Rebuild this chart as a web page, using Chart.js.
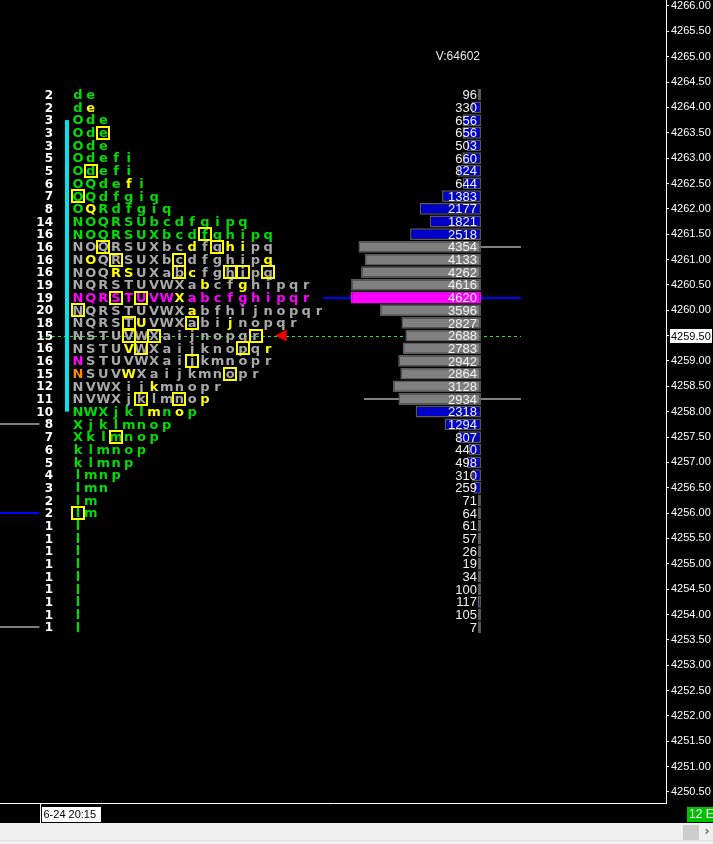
<!DOCTYPE html>
<html><head><meta charset="utf-8">
<script src="https://cdn.jsdelivr.net/npm/chart.js@4"></script>
<style>html,body{margin:0;padding:0;background:#000;overflow:hidden}canvas{display:block}</style>
</head><body>
<canvas id="c" width="713" height="844"></canvas>
<script>
// ---------------- data ----------------
const prices = [4264.25,4264.00,4263.75,4263.50,4263.25,4263.00,4262.75,4262.50,4262.25,4262.00,
  4261.75,4261.50,4261.25,4261.00,4260.75,4260.50,4260.25,4260.00,4259.75,4259.50,
  4259.25,4259.00,4258.75,4258.50,4258.25,4258.00,4257.75,4257.50,4257.25,4257.00,
  4256.75,4256.50,4256.25,4256.00,4255.75,4255.50,4255.25,4255.00,4254.75,4254.50,
  4254.25,4254.00,4253.75];
const volumes = [96,330,656,656,503,660,824,644,1383,2177,1821,2518,4354,4133,4262,4616,4620,3596,2827,2688,
  2783,2942,2864,3128,2934,2318,1294,807,440,498,310,259,71,64,61,57,26,19,34,100,117,105,7];
const tpoCounts = [2,2,3,3,3,5,5,6,7,8,14,16,16,16,16,19,19,20,18,15,16,16,15,12,11,10,8,7,6,5,4,3,2,2,1,1,1,1,1,1,1,1,1];
const tpoRows = ["de","de","Ode","Ode","Ode","Odefi","Odefi","OQdefi","OQdfgiq","OQRdfgiq",
  "NOQRSUbcdfgipq","NOQRSUXbcdfghipq","NOQRSUXbcdfghipq","NOQRSUXbcdfghipq","NOQRSUXabcfghipq",
  "NQRSTUVWXabcfghipqr","NQRSTUVWXabcfghipqr","NQRSTUVWXabfhijnopqr","NQRSTUVWXabijnopqr",
  "NSTUVWXaijnopqr","NSTUVWXaijknopqr","NSTUVWXaijkmnopr","NSUVWXaijkmnopr","NVWXijkmnopr",
  "NVWXjklmnop","NWXjklmnop","Xjklmnop","Xklmnop","klmnop","klmnp","lmnp","lmn","lm","lm",
  "l","l","l","l","l","l","l","l","l"];
const yellowCells = [[1,1],[7,4],[9,1],[12,9],[12,12],[12,13],[13,1],[13,15],[14,3],[14,4],[14,9],
  [15,10],[15,13],[16,8],[17,9],[18,5],[18,12],[20,4],[20,15],[22,4],[23,6],[24,10],[25,6],[25,8]];
const magentaCells = [[21,0]];
const orangeCells = [[22,0]];
const boxCells = [[3,2],[6,1],[8,0],[11,10],[12,2],[12,11],[13,3],[13,8],[14,8],[14,12],[14,13],[14,15],
  [16,3],[16,5],[17,0],[18,4],[18,9],[19,4],[19,6],[19,14],[20,5],[20,13],[21,9],[22,12],[24,5],[24,8],[27,3],[33,0]];
const yTickValues = [4266.00,4265.50,4265.00,4264.50,4264.00,4263.50,4263.00,4262.50,4262.00,4261.50,
  4261.00,4260.50,4260.00,4259.50,4259.00,4258.50,4258.00,4257.50,4257.00,4256.50,4256.00,4255.50,
  4255.00,4254.50,4254.00,4253.50,4253.00,4252.50,4252.00,4251.50,4251.00,4250.50];
const vaHigh = 4261.25, vaLow = 4258.25, pocPrice = 4260.25, lastPrice = 4259.50;
const ibHigh = 4263.75, ibLow = 4258.00;
const prevLevels = [4257.75, 4256.00, 4253.75];
const prevLevelKinds = ['va', 'poc', 'va'];
const dateLabel = '6-24 20:15';
const cornerLabel = '12 E';

// ---------------- style ----------------
const COL = { green:'#00dd00', grey:'#a8a8a8', yellow:'#ffff00', magenta:'#ff00ff', orange:'#ff8a00',
  white:'#ffffff', cyan:'#00e5ee', blueBar:'#0000c8', greyBar:'#7f7f7f', barEdge:'#5a5a5a',
  pocLine:'#0000ff', vaLine:'#808080', dash:'#22ee22', red:'#ee0000' };
const inVA = p => p <= vaHigh && p >= vaLow;
const has = (list, r, c) => list.some(a => a[0] === r && a[1] === c);
const totalVol = volumes.reduce((a, b) => a + b, 0);

const profilePlugin = {
  id: 'profile',
  beforeDraw(chart) {
    const ctx = chart.ctx;
    ctx.save(); ctx.fillStyle = '#000'; ctx.fillRect(0, 0, chart.width, chart.height); ctx.restore();
  },
  beforeDatasetsDraw(chart) {
    const ctx = chart.ctx, ys = chart.scales.y, xt = chart.scales.xt, xv = chart.scales.xv;
    const lineEnd = xv.getPixelForValue(-1420);
    ctx.save();
    ctx.lineWidth = 2; ctx.strokeStyle = COL.vaLine;
    [vaHigh, vaLow].forEach(p => {
      const y = Math.round(ys.getPixelForValue(p));
      ctx.beginPath(); ctx.moveTo(xv.getPixelForValue(4160), y); ctx.lineTo(lineEnd, y); ctx.stroke();
    });
    ctx.strokeStyle = COL.pocLine;
    let y = Math.round(ys.getPixelForValue(pocPrice));
    ctx.beginPath(); ctx.moveTo(xv.getPixelForValue(5620), y); ctx.lineTo(lineEnd, y); ctx.stroke();
    prevLevels.forEach((p, i) => {
      const yy = Math.round(ys.getPixelForValue(p));
      ctx.strokeStyle = prevLevelKinds[i] === 'poc' ? COL.pocLine : COL.vaLine;
      ctx.beginPath(); ctx.moveTo(chart.chartArea.left, yy); ctx.lineTo(xt.getPixelForValue(-3.05), yy); ctx.stroke();
    });
    ctx.lineWidth = 1; ctx.strokeStyle = COL.dash; ctx.setLineDash([3, 3]);
    y = Math.round(ys.getPixelForValue(lastPrice)) + 0.5;
    ctx.beginPath(); ctx.moveTo(xt.getPixelForValue(-3), y); ctx.lineTo(lineEnd, y); ctx.stroke();
    ctx.setLineDash([]);
    const half = Math.abs(ys.getPixelForValue(0) - ys.getPixelForValue(0.125));
    const yTop = ys.getPixelForValue(ibHigh) - half, yBot = ys.getPixelForValue(ibLow) + half;
    const xc = xt.getPixelForValue(-0.87);
    ctx.fillStyle = COL.cyan; ctx.fillRect(xc - 2, yTop, 4, yBot - yTop);
    ctx.restore();
  },
  afterDatasetsDraw(chart) {
    const ctx = chart.ctx, ys = chart.scales.y, xt = chart.scales.xt, xv = chart.scales.xv;
    ctx.save();
    ctx.font = '13px "Liberation Sans"'; ctx.fillStyle = '#f2f2f2';
    ctx.textAlign = 'right'; ctx.textBaseline = 'middle';
    const vx = xv.getPixelForValue(0) - 4;
    volumes.forEach((v, i) => ctx.fillText(String(v), vx, ys.getPixelForValue(prices[i]) + 1));
    ctx.font = '12px "Liberation Sans"'; ctx.fillStyle = '#e8e8e8';
    ctx.fillText('V:' + totalVol, xv.getPixelForValue(0) - 1, ys.getPixelForValue(prices[0]) - 38);
    ctx.font = 'bold 12px "DejaVu Sans"'; ctx.fillStyle = COL.white;
    tpoCounts.forEach((n, i) => ctx.fillText(String(n), xt.getPixelForValue(-1.97), ys.getPixelForValue(prices[i]) + 1));
    ctx.font = 'bold 13px "DejaVu Sans"'; ctx.textAlign = 'center';
    tpoRows.forEach((row, r) => {
      const p = prices[r], py = ys.getPixelForValue(p) + 1;
      const base = p === pocPrice ? COL.magenta : (inVA(p) ? COL.grey : COL.green);
      [...row].forEach((ch, c) => {
        let color = base;
        if (has(yellowCells, r, c)) color = COL.yellow;
        if (has(magentaCells, r, c)) color = COL.magenta;
        if (has(orangeCells, r, c)) color = COL.orange;
        ctx.fillStyle = color;
        ctx.fillText(ch, xt.getPixelForValue(c), py);
      });
    });
    ctx.strokeStyle = COL.yellow; ctx.lineWidth = 2;
    boxCells.forEach(([r, c]) => {
      const cx = Math.round(xt.getPixelForValue(c)), cy = Math.round(ys.getPixelForValue(prices[r]));
      ctx.strokeRect(cx - 6, cy - 6, 12, 12);
    });
    const ri = prices.indexOf(lastPrice);
    const len = tpoRows[ri].length;
    const ty = ys.getPixelForValue(lastPrice);
    ctx.fillStyle = COL.red;
    ctx.beginPath();
    ctx.moveTo(xt.getPixelForValue(len + 0.55), ty);
    ctx.lineTo(xt.getPixelForValue(len + 1.45), ty - 6);
    ctx.lineTo(xt.getPixelForValue(len + 1.45), ty + 6);
    ctx.closePath(); ctx.fill();
    ctx.restore();
  },
  afterDraw(chart) {
    const ctx = chart.ctx, ys = chart.scales.y, xt = chart.scales.xt;
    const area = chart.chartArea;
    ctx.save();
    const py = Math.round(ys.getPixelForValue(lastPrice));
    ctx.fillStyle = '#ffffff'; ctx.fillRect(area.right + 4, py - 7, 42, 14);
    ctx.fillStyle = '#000'; ctx.font = '11px "Liberation Sans"'; ctx.textAlign = 'left'; ctx.textBaseline = 'middle';
    ctx.fillText(lastPrice.toFixed(2), area.right + 5, py + 1);
    const dx = Math.round(xt.getPixelForValue(-3)) + 0.5;
    ctx.strokeStyle = '#ffffff'; ctx.lineWidth = 1;
    ctx.beginPath(); ctx.moveTo(dx, area.bottom); ctx.lineTo(dx, area.bottom + 20); ctx.stroke();
    ctx.fillStyle = '#ffffff'; ctx.fillRect(dx + 1.5, area.bottom + 4, 59, 15);
    ctx.fillStyle = '#000'; ctx.fillText(dateLabel, dx + 3, area.bottom + 12);
    ctx.fillStyle = '#00c000'; ctx.fillRect(chart.width - 26, area.bottom + 4, 26, 15);
    ctx.fillStyle = '#ffffff'; ctx.font = '12px "Liberation Sans"';
    ctx.fillText(cornerLabel, chart.width - 24, area.bottom + 12);
    ctx.fillStyle = '#f0f0f0'; ctx.fillRect(0, area.bottom + 20, chart.width, chart.height - area.bottom - 20);
    ctx.fillStyle = '#e2e2e2'; ctx.fillRect(0, chart.height - 4, chart.width, 1);
    ctx.fillStyle = '#cdcdcd'; ctx.fillRect(chart.width - 30, area.bottom + 22, 16, 15);
    ctx.fillStyle = '#606060'; ctx.font = 'bold 12px "DejaVu Sans"'; ctx.textAlign = 'center';
    ctx.fillText('›', chart.width - 6, area.bottom + 29);
    ctx.restore();
  }
};

new Chart(document.getElementById('c'), {
  type: 'bar',
  data: {
    datasets: [{
      data: prices.map((p, i) => ({ x: volumes[i], y: p })),
      backgroundColor: prices.map(p => p === pocPrice ? COL.magenta : (inVA(p) ? COL.greyBar : COL.blueBar)),
      borderColor: prices.map(p => p === pocPrice ? COL.magenta : COL.barEdge),
      borderWidth: 1.5,
      borderSkipped: false,
      minBarLength: 3,
      barPercentage: 0.93,
      categoryPercentage: 1,
      xAxisID: 'xv',
      yAxisID: 'y'
    }]
  },
  options: {
    responsive: false,
    animation: false,
    devicePixelRatio: 1,
    indexAxis: 'y',
    layout: { padding: 0 },
    plugins: { legend: { display: false }, tooltip: { enabled: false } },
    scales: {
      y: {
        type: 'linear', position: 'right', min: 4250.283, max: 4266.118, bounds: 'data', offset: false,
        afterBuildTicks: s => { s.ticks = yTickValues.map(v => ({ value: v })); },
        afterFit: s => { s.width = 47; s.paddingTop = 0; s.paddingBottom = 0; },
        ticks: { color: '#ffffff', font: { family: 'Liberation Sans', size: 11 }, padding: 2, autoSkip: false,
                 callback: v => Number(v).toFixed(2) },
        grid: { display: true, offset: false, drawOnChartArea: false, drawTicks: true, tickLength: 3, color: '#ffffff', tickColor: '#ffffff' },
        border: { display: true, color: '#ffffff', width: 1 }
      },
      xv: {
        type: 'linear', position: 'bottom', reverse: true, min: -6575, max: 17092, bounds: 'data', offset: false,
        afterFit: s => { s.height = 41; s.paddingLeft = 0; s.paddingRight = 0; },
        ticks: { display: false },
        grid: { display: false },
        border: { display: true, color: '#ffffff', width: 1 }
      },
      xt: { type: 'linear', display: false, min: -6.151, max: 46.37, bounds: 'data', offset: false }
    }
  },
  plugins: [profilePlugin]
});
</script>
</body></html>
